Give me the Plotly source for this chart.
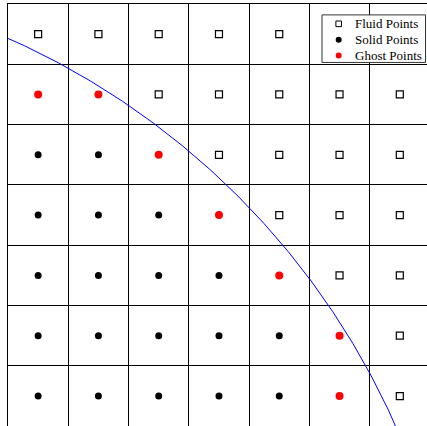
import plotly.graph_objects as go

# Cell classification of the 7x7 stencil, top row first.
# F = fluid point, S = solid point, G = ghost point
cell_rows = [
    "FFFFFFF",
    "GGFFFFF",
    "SSGFFFF",
    "SSSGFFF",
    "SSSSGFF",
    "SSSSSGF",
    "SSSSSGF",
]
n_cells = 7

# Immersed boundary: circle arc (center and radius in grid units)
boundary_center = (-5.13, -5.13)
boundary_radius = 12.65

legend_labels = ["Fluid Points", "Solid Points", "Ghost Points"]

# Split the cell centres by point type
pts = {"F": ([], []), "S": ([], []), "G": ([], [])}
for r, row in enumerate(cell_rows):
    yc = n_cells - r - 0.5
    for c, kind in enumerate(row):
        pts[kind][0].append(c + 0.5)
        pts[kind][1].append(yc)

fig = go.Figure()
fig.add_trace(go.Scatter(
    x=pts["F"][0], y=pts["F"][1], mode="markers", name=legend_labels[0],
    marker=dict(symbol="square", size=7, color="white",
                line=dict(color="black", width=1.2)),
))
fig.add_trace(go.Scatter(
    x=pts["S"][0], y=pts["S"][1], mode="markers", name=legend_labels[1],
    marker=dict(symbol="circle", size=7, color="black", line=dict(width=0)),
))
fig.add_trace(go.Scatter(
    x=pts["G"][0], y=pts["G"][1], mode="markers", name=legend_labels[2],
    marker=dict(symbol="circle", size=8, color="red", line=dict(width=0)),
))

cx, cy = boundary_center
R = boundary_radius
shapes = [
    dict(type="circle", xref="x", yref="y",
         x0=cx - R, y0=cy - R, x1=cx + R, y1=cy + R,
         line=dict(color="blue", width=1), layer="above"),
]

W, H = 427, 426
def px(x):
    return x / W
def py(y):
    return 1 - y / H

# Legend box drawn with shapes + text
box_left, box_right, box_top, box_bottom = 320, 425.5, 11, 59
shapes.append(dict(type="rect", xref="paper", yref="paper",
                   x0=px(box_left), x1=px(box_right),
                   y0=py(box_bottom), y1=py(box_top),
                   fillcolor="white", line=dict(color="#333333", width=1),
                   layer="above"))

row_y = [20, 36, 52]
sym_x = 337
legend_styles = [
    dict(type="rect", fillcolor="white", line=dict(color="black", width=1), half=2.8),
    dict(type="circle", fillcolor="black", line=dict(width=0), half=3),
    dict(type="circle", fillcolor="red", line=dict(width=0), half=3),
]
annotations = []
for label, yy, st in zip(legend_labels, row_y, legend_styles):
    h = st["half"]
    shapes.append(dict(type=st["type"], xref="paper", yref="paper",
                       xsizemode="pixel", ysizemode="pixel",
                       xanchor=px(sym_x), yanchor=py(yy),
                       x0=-h, x1=h, y0=-h, y1=h,
                       fillcolor=st["fillcolor"], line=st["line"], layer="above"))
    annotations.append(dict(text=label, xref="paper", yref="paper",
                            x=px(352), y=py(yy), xanchor="left", yanchor="middle",
                            showarrow=False,
                            font=dict(family="Liberation Serif", size=13, color="black")))

axis_common = dict(
    showgrid=True, gridcolor="black", gridwidth=1,
    dtick=1, tick0=0, showticklabels=False, ticks="",
    zeroline=False, showline=True, linecolor="black", linewidth=1,
    fixedrange=True,
)
# Plot area starts at the left/top grid line and runs past the right/bottom edges;
# the outer left and top grid lines are the axis lines.
fig.update_layout(
    width=W, height=H,
    margin=dict(l=7.5, r=0, t=3.7, b=0),
    paper_bgcolor="white", plot_bgcolor="white",
    showlegend=False,
    xaxis=dict(range=[0, 6.951], side="top", **axis_common),
    yaxis=dict(range=[0.003, 7.0], side="left", **axis_common),
    shapes=shapes,
    annotations=annotations,
)

fig.write_html("out.html")
